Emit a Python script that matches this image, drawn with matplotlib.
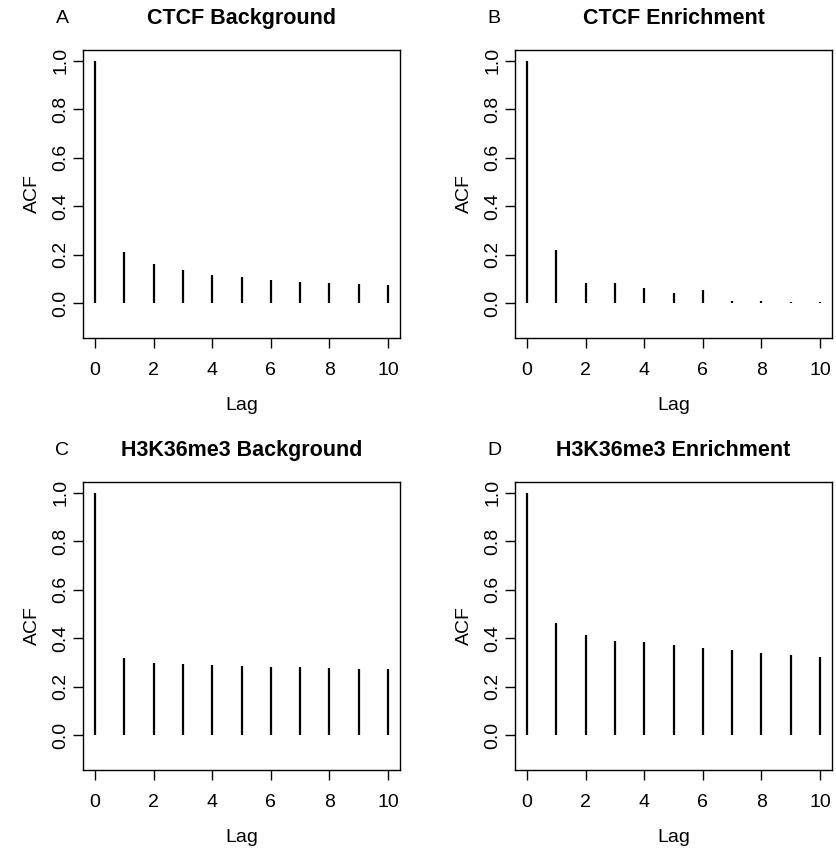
import matplotlib
matplotlib.use("Agg")
import matplotlib.pyplot as plt

plt.rcParams['font.family'] = ['Liberation Sans', 'DejaVu Sans']

lags = list(range(11))
titles = ["CTCF Background", "CTCF Enrichment", "H3K36me3 Background", "H3K36me3 Enrichment"]
letters = ["A", "B", "C", "D"]

acf_ctcf_bg = [1.0, 0.213, 0.164, 0.136, 0.118, 0.107, 0.096, 0.088, 0.083, 0.080, 0.074]
acf_ctcf_en = [1.0, 0.220, 0.085, 0.085, 0.064, 0.043, 0.054, 0.011, 0.009, 0.006, 0.004]
acf_h3_bg = [1.0, 0.320, 0.300, 0.295, 0.290, 0.287, 0.281, 0.280, 0.276, 0.273, 0.272]
acf_h3_en = [1.0, 0.462, 0.413, 0.390, 0.385, 0.373, 0.360, 0.352, 0.340, 0.330, 0.324]
series = [acf_ctcf_bg, acf_ctcf_en, acf_h3_bg, acf_h3_en]

fig = plt.figure(figsize=(8.36, 8.48), dpi=100)
W, H = 836, 848
# axes boxes in pixels: left, top, right, bottom
boxes = [(83, 50, 400, 338), (515, 50, 832, 338),
         (83, 482, 400, 770), (515, 482, 832, 770)]

for i in range(4):
    l, t, r, b = boxes[i]
    aw, ah = r - l, b - t
    ax = fig.add_axes([l / W, 1 - b / H, aw / W, ah / H])
    ax.vlines(lags, 0, series[i], color='black', lw=1.6)
    ax.set_xlim(-0.41, 10.41)
    ax.set_ylim(-0.143, 1.045)
    ax.set_xticks([0, 2, 4, 6, 8, 10])
    ax.set_yticks([0.0, 0.2, 0.4, 0.6, 0.8, 1.0])
    ax.set_yticklabels(["0.0", "0.2", "0.4", "0.6", "0.8", "1.0"], rotation=90, va='center')
    ax.tick_params(direction='out', length=7, width=1, labelsize=14)
    ax.tick_params(axis='x', pad=10)
    ax.tick_params(axis='y', pad=3)
    for s in ax.spines.values():
        s.set_linewidth(1.0)
    ax.set_xlabel("Lag", fontsize=14, va='center')
    ax.xaxis.set_label_coords(0.5, -67 / ah)
    ax.set_ylabel("ACF", fontsize=14, va='center')
    ax.yaxis.set_label_coords(-51 / aw, 0.5)
    # title and panel letter
    ax.text(0.5, 1 + 32 / ah, titles[i], transform=ax.transAxes,
            fontsize=15.5, fontweight='bold', ha='center', va='center')
    ax.text(-21 / aw, 1 + 32 / ah, letters[i], transform=ax.transAxes,
            fontsize=14, ha='center', va='center')

fig.savefig("out.png", dpi=100)
